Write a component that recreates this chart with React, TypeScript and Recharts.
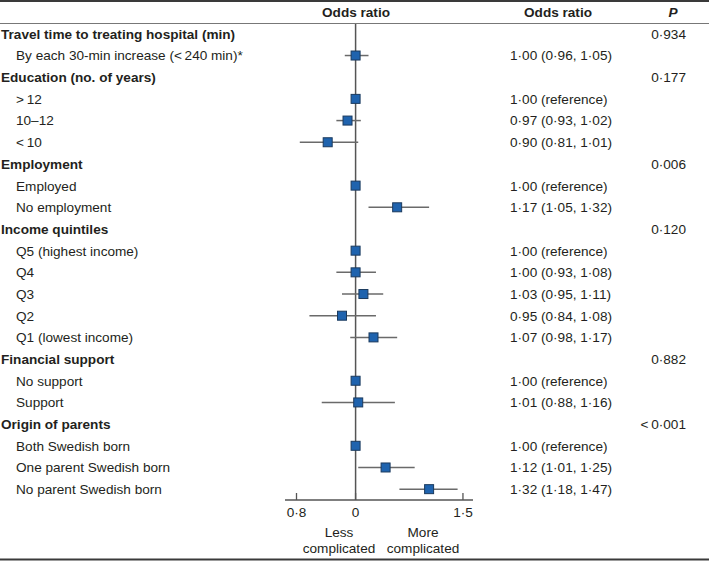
import React from 'react';
import {
  ScatterChart,
  Scatter,
  XAxis,
  YAxis,
  ErrorBar,
  ReferenceLine,
} from 'recharts';

const rowLabels = [
  'Travel time to treating hospital (min)',
  'By each 30-min increase (<\u2009240 min)*',
  'Education (no. of years)',
  '>\u200912',
  '10–12',
  '<\u200910',
  'Employment',
  'Employed',
  'No employment',
  'Income quintiles',
  'Q5 (highest income)',
  'Q4',
  'Q3',
  'Q2',
  'Q1 (lowest income)',
  'Financial support',
  'No support',
  'Support',
  'Origin of parents',
  'Both Swedish born',
  'One parent Swedish born',
  'No parent Swedish born',
];

const isGroupRow = [
  true, false, true, false, false, false, true, false, false, true, false,
  false, false, false, false, true, false, false, true, false, false, false,
];

const oddsRatios = [
  null, 1.0, null, 1.0, 0.97, 0.9, null, 1.0, 1.17, null, 1.0,
  1.0, 1.03, 0.95, 1.07, null, 1.0, 1.01, null, 1.0, 1.12, 1.32,
];

const ciLower = [
  null, 0.96, null, null, 0.93, 0.81, null, null, 1.05, null, null,
  0.93, 0.95, 0.84, 0.98, null, null, 0.88, null, null, 1.01, 1.18,
];

const ciUpper = [
  null, 1.05, null, null, 1.02, 1.01, null, null, 1.32, null, null,
  1.08, 1.11, 1.08, 1.17, null, null, 1.16, null, null, 1.25, 1.47,
];

const orLabels = [
  '', '1·00 (0·96, 1·05)', '', '1·00 (reference)', '0·97 (0·93, 1·02)',
  '0·90 (0·81, 1·01)', '', '1·00 (reference)', '1·17 (1·05, 1·32)', '',
  '1·00 (reference)', '1·00 (0·93, 1·08)', '1·03 (0·95, 1·11)',
  '0·95 (0·84, 1·08)', '1·07 (0·98, 1·17)', '', '1·00 (reference)',
  '1·01 (0·88, 1·16)', '', '1·00 (reference)', '1·12 (1·01, 1·25)',
  '1·32 (1·18, 1·47)',
];

const pValues = [
  '0·934', '', '0·177', '', '', '', '0·006', '', '', '0·120', '', '', '', '',
  '', '0·882', '', '', '<\u20090·001', '', '', '',
];

const xTicks = [0.8, 1, 1.5];
const xTickLabels = ['0·8', '0', '1·5'];

const FONT = '"Liberation Sans", Arial, Helvetica, sans-serif';
const FS = 13.6;
const TEXT = '#231f20';

const rowIndex = rowLabels.map((_, i) => i);

const points = rowIndex
  .filter((i) => oddsRatios[i] !== null)
  .map((i) => {
    const or = oddsRatios[i] as number;
    const lo = ciLower[i] ?? or;
    const hi = ciUpper[i] ?? or;
    return { row: i, or, err: [or - lo, hi - or] };
  });

// one row of the table: label on the left, OR text and P on the right
function RowTick(props: any) {
  const i = props.payload.value;
  const group = isGroupRow[i];
  return (
    <g fontFamily={FONT} fontSize={FS} fill={TEXT}>
      <text x={group ? 1 : 16} y={props.y} dy="0.36em" fontWeight={group ? 'bold' : 'normal'}>
        {rowLabels[i]}
      </text>
      <text x={510} y={props.y} dy="0.36em">
        {orLabels[i]}
      </text>
      <text x={686} y={props.y} dy="0.36em" textAnchor="end">
        {pValues[i]}
      </text>
    </g>
  );
}

function BottomTick(props: any) {
  const idx = xTicks.indexOf(props.payload.value);
  return (
    <g>
      <line x1={props.x} x2={props.x} y1={props.y - 7} y2={props.y} stroke="#555" strokeWidth={1.3} />
      <text
        x={props.x}
        y={props.y + 17}
        textAnchor="middle"
        fontFamily={FONT}
        fontSize={FS}
        fill={TEXT}
      >
        {xTickLabels[idx]}
      </text>
    </g>
  );
}

function Marker(props: any) {
  return (
    <rect
      x={props.cx - 4.5}
      y={props.cy - 4.5}
      width={9}
      height={9}
      fill="#1f63ae"
      stroke="#1b3a5e"
      strokeWidth={1}
    />
  );
}

export default function App() {
  return (
    <div style={{ position: 'absolute', left: 0, top: 0, width: 709, height: 561, background: '#fff' }}>
      <ScatterChart width={709} height={561} margin={{ top: 23, right: 236, bottom: 0, left: 0 }}>
        <XAxis
          type="number"
          dataKey="or"
          scale="log"
          domain={[0.766, 1.558]}
          allowDataOverflow
          ticks={xTicks}
          interval={0}
          height={61}
          tickLine={false}
          tickSize={0}
          tickMargin={0}
          axisLine={{ stroke: '#555', strokeWidth: 1.3 }}
          tick={<BottomTick />}
        />
        <YAxis
          type="number"
          dataKey="row"
          domain={[-0.5, 21.5]}
          reversed
          ticks={rowIndex}
          interval={0}
          width={285}
          axisLine={false}
          tickLine={false}
          tick={<RowTick />}
        />
        <ReferenceLine x={1} stroke="#555" strokeWidth={1.5} />
        <Scatter data={points} shape={<Marker />} isAnimationActive={false}>
          <ErrorBar dataKey="err" direction="x" width={0} stroke="#6a6a6a" strokeWidth={1.5} />
        </Scatter>
      </ScatterChart>
      <svg
        width={709}
        height={561}
        style={{ position: 'absolute', left: 0, top: 0, pointerEvents: 'none' }}
        fontFamily={FONT}
        fill={TEXT}
      >
        <line x1={0} x2={709} y1={1} y2={1} stroke="#3a3a3a" strokeWidth={2} />
        <line x1={0} x2={709} y1={23.5} y2={23.5} stroke="#777" strokeWidth={1} />
        <line x1={0} x2={709} y1={559.5} y2={559.5} stroke="#3a3a3a" strokeWidth={2} />
        <text x={356} y={17} textAnchor="middle" fontSize={FS} fontWeight="bold">Odds ratio</text>
        <text x={558} y={17} textAnchor="middle" fontSize={FS} fontWeight="bold">Odds ratio</text>
        <text x={673} y={17} textAnchor="middle" fontSize={FS} fontWeight="bold" fontStyle="italic">P</text>
        <text x={339} y={537} textAnchor="middle" fontSize={FS}>Less</text>
        <text x={339} y={553} textAnchor="middle" fontSize={FS}>complicated</text>
        <text x={423} y={537} textAnchor="middle" fontSize={FS}>More</text>
        <text x={423} y={553} textAnchor="middle" fontSize={FS}>complicated</text>
      </svg>
    </div>
  );
}
